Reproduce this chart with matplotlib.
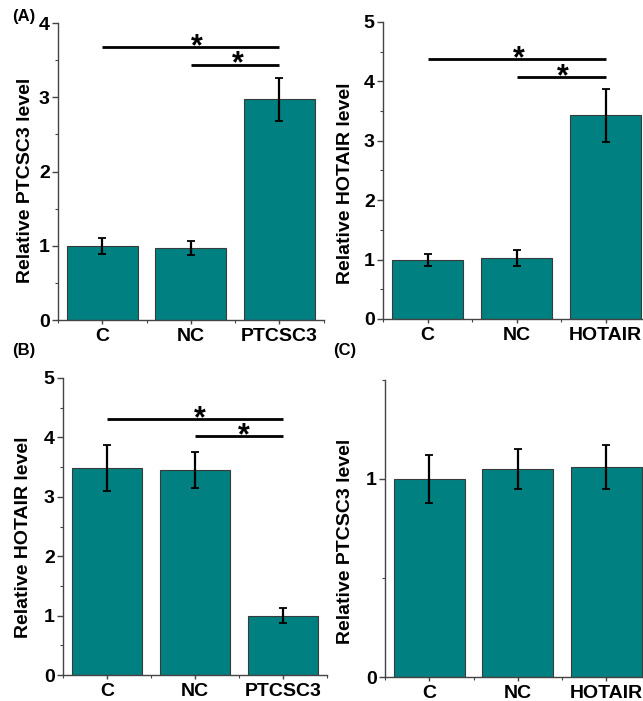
import matplotlib
matplotlib.use("Agg")
import matplotlib.pyplot as plt
from matplotlib.ticker import MultipleLocator

plt.rcParams['font.family'] = ['Liberation Sans', 'DejaVu Sans']
plt.rcParams['font.weight'] = 'bold'

# ---- data ----
cats_a = ["C", "NC", "PTCSC3"]
vals_a = [1.00, 0.97, 2.97]
errs_a = [0.11, 0.10, 0.29]

cats_b = ["C", "NC", "HOTAIR"]
vals_b = [1.00, 1.03, 3.43]
errs_b = [0.10, 0.14, 0.45]

cats_c = ["C", "NC", "PTCSC3"]
vals_c = [3.48, 3.45, 1.00]
errs_c = [0.39, 0.30, 0.13]

cats_d = ["C", "NC", "HOTAIR"]
vals_d = [1.00, 1.05, 1.06]
errs_d = [0.12, 0.10, 0.11]

ylabels = ["Relative PTCSC3 level", "Relative HOTAIR level",
           "Relative HOTAIR level", "Relative PTCSC3 level"]
panel_labels = ["(A)", "(B)", "(C)"]

W, H = 643, 701
fig = plt.figure(figsize=(W / 100, H / 100), dpi=100)

BAR = "#008080"
EDGE = "#3a3a3a"
AX = "#444444"

def make_ax(left, right, bottom, top):
    return fig.add_axes([left / W, 1 - bottom / H, (right - left) / W, (bottom - top) / H])

def draw(ax, cats, vals, errs, ymax, major, minor, ylabel, label_dx, label_fy, sig=None):
    x = list(range(len(cats)))
    ax.bar(x, vals, width=0.8, color=BAR, edgecolor=EDGE, linewidth=0.8, zorder=2)
    ax.errorbar(x, vals, yerr=errs, fmt="none", ecolor="black", elinewidth=1.6,
                capsize=3, capthick=1.3, zorder=3)
    ax.set_xlim(-0.5, 2.5)
    ax.set_ylim(0, ymax)
    ax.set_xticks(x)
    ax.set_xticklabels(cats, fontsize=14, fontweight="bold")
    ax.xaxis.set_minor_locator(MultipleLocator(0.5))
    ax.yaxis.set_major_locator(MultipleLocator(major))
    ax.yaxis.set_minor_locator(MultipleLocator(minor))
    for lbl in ax.get_yticklabels():
        lbl.set_fontweight("bold")
    ax.tick_params(axis="y", labelsize=14, direction="out", length=4, width=1, color=AX, pad=2)
    ax.tick_params(axis="y", which="minor", length=2.5, width=0.8, color=AX)
    ax.tick_params(axis="x", labelsize=14, direction="out", length=3, width=1, color=AX, pad=3)
    ax.tick_params(axis="x", which="minor", length=2, width=0.8, color=AX)
    for s in ["top", "right"]:
        ax.spines[s].set_visible(False)
    for s in ["left", "bottom"]:
        ax.spines[s].set_color(AX)
        ax.spines[s].set_linewidth(1.0)
    ax.set_ylabel(ylabel, fontsize=14, fontweight="bold", va="center")
    ax.yaxis.set_label_coords(label_dx, label_fy)
    if sig is not None:
        y1, y2, s1x, s2x = sig
        ax.plot([0, 2], [y1, y1], color="black", lw=2, solid_capstyle="butt", clip_on=False)
        ax.plot([1, 2], [y2, y2], color="black", lw=2, solid_capstyle="butt", clip_on=False)
        ax.text(s1x, y1, "*", ha="center", va="center", fontsize=22, fontweight="bold")
        ax.text(s2x, y2, "*", ha="center", va="center", fontsize=22, fontweight="bold")

# Panel A (top-left)
axA = make_ax(58, 323.5, 320, 23)
draw(axA, cats_a, vals_a, errs_a, 4, 1, 0.5, ylabels[0], -32 / 265.5, 0.47,
     sig=(3.68, 3.44, 1.07, 1.53))
# Panel top-right
axB = make_ax(383, 650, 319, 22)
draw(axB, cats_b, vals_b, errs_b, 5, 1, 0.5, ylabels[1], -38 / 267, 0.458,
     sig=(4.38, 4.07, 1.03, 1.52))
# Panel bottom-left
axC = make_ax(63, 327, 675, 378)
draw(axC, cats_c, vals_c, errs_c, 5, 1, 0.5, ylabels[2], -39 / 264, 0.465,
     sig=(4.31, 4.02, 1.06, 1.55))
# Panel bottom-right
axD = make_ax(385, 650.5, 677, 380)
draw(axD, cats_d, vals_d, errs_d, 1.5, 1, 0.5, ylabels[3], -40 / 265.5, 0.458)

# panel labels
fig.text(12 / W, 1 - 17 / H, panel_labels[0], fontsize=12, fontweight="bold", va="center", ha="left")
fig.text(12 / W, 1 - 351 / H, panel_labels[1], fontsize=12, fontweight="bold", va="center", ha="left")
fig.text(333 / W, 1 - 350 / H, panel_labels[2], fontsize=12, fontweight="bold", va="center", ha="left")

fig.savefig("out.png", dpi=100)
